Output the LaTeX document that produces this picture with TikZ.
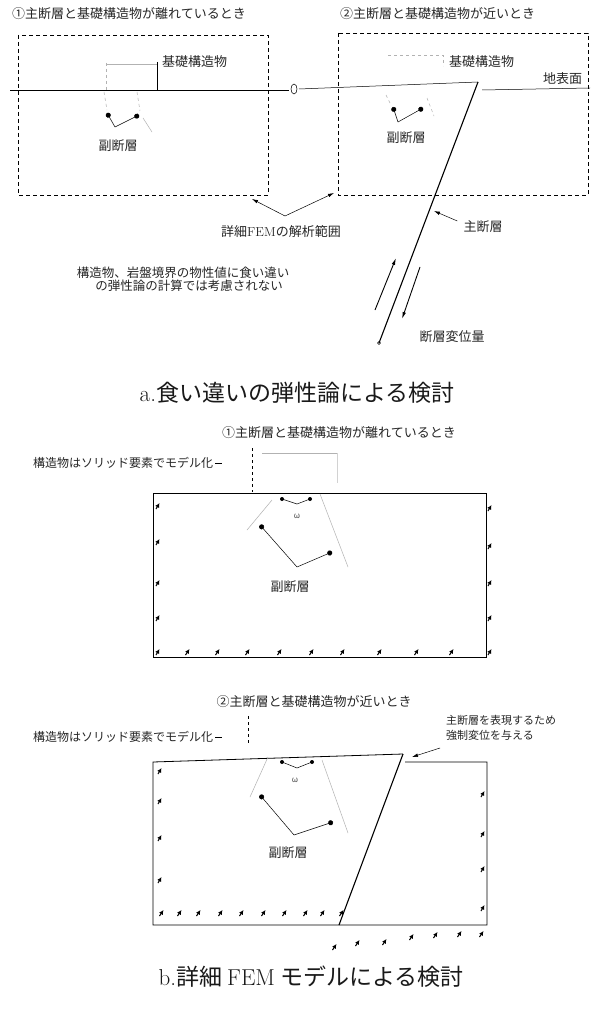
\documentclass[tikz,border=0pt]{standalone}
\usepackage{fontspec}
\newfontfamily\jp{Noto Sans CJK JP}
\usetikzlibrary{arrows.meta}
\begin{document}
\begin{tikzpicture}[x=1pt,y=-1pt,
  lbl/.style={font=\jp\fontsize{13}{15}\selectfont, inner sep=0pt, text=black!85},
  small/.style={font=\jp\fontsize{11}{14}\selectfont, inner sep=0pt, text=black!85},
  caption/.style={font=\jp\fontsize{23}{26}\selectfont, inner sep=0pt, text=black!90},
  rangebox/.style={line width=0.5pt, dash pattern=on 4pt off 3pt},
  model/.style={line width=0.8pt},
  fault/.style={line width=1.1pt},
  lead/.style={line width=0.5pt},
  faint/.style={gray!60, line width=0.5pt},
  dotend/.style={lead, -{Circle[length=5pt]}},
  arr/.style={lead, -{Latex[length=6pt,width=3.5pt]}},
  shear/.style={line width=0.9pt, -{Latex[length=7pt,width=3.5pt]}},
  bcmark/.style={line width=1pt, -{Latex[length=4.5pt,width=4.5pt]}}
]
\useasboundingbox (0,0) rectangle (596,1014);
\fill[white] (0,0) rectangle (596,1014);

% ---------------- a. elastic dislocation analysis ----------------
\node[lbl, anchor=west] (ta1) at (12,14) {①主断層と基礎構造物が離れているとき};
\node[lbl, anchor=west] (ta2) at (340,14) {②主断層と基礎構造物が近いとき};

% analysis ranges of the detailed FEM
\coordinate (r1a) at (18,35);  \coordinate (r1b) at (268,195);
\coordinate (r2a) at (338,33); \coordinate (r2b) at (588,195);
\draw[rangebox] (r1a) rectangle (r1b);
\draw[rangebox] (r2a) rectangle (r2b);

% ground surface
\coordinate (g0) at (10,90);   \coordinate (g1) at (289,90);
\coordinate (g2) at (299,89);  \coordinate (fa1) at (478,82);
\coordinate (g3) at (482,90);  \coordinate (g4) at (590,88);
\draw[lead] (g0) -- (g1);
\draw[lead] (294,89) ellipse (3 and 5);
\draw[lead] (g2) -- (fa1);
\draw[lead] (g3) -- (g4);
\node[lbl, anchor=west] (surf) at (543,79) {地表面};

% foundation (left)
\draw[faint, dashed] (106,63) -- (106,90);
\draw[faint] (106,64) -- (157,64);
\draw[lead] (157,62) -- (157,90);
\node[lbl, anchor=west] (fd1) at (162,62) {基礎構造物};

% sub faults (left)
\draw[faint, dashed] (104,92) -- (107,110);
\draw[faint, dashed] (137,92) -- (140,111);
\draw[faint] (143,118) -- (152,132);
\coordinate (sa1) at (115,127);
\draw[dotend] (sa1) -- (107,113);
\draw[dotend] (sa1) -- (139,115);
\node[lbl] (sf1) at (118,146) {副断層};

% foundation (right)
\draw[faint, dashed] (388,55) -- (443,55) -- (443,66);
\node[lbl, anchor=west] (fd2) at (449,62) {基礎構造物};

% sub faults (right)
\draw[faint, dashed] (386,95) -- (391,105);
\draw[faint, dashed] (427,98) -- (434,116);
\coordinate (sa2) at (398,122);
\draw[dotend] (sa2) -- (393,107);
\draw[dotend] (sa2) -- (423,108);
\node[lbl] (sf2) at (406,138) {副断層};

% main fault
\coordinate (fa2) at (379,343);
\draw[fault] (fa1) -- (fa2);
\draw[lead] (fa2) circle (1.5);
\node[lbl] (mf) at (483,227) {主断層};
\draw[arr] (mf.west) ++(-6,-6) coordinate (mfl) -- (434,211);

% slip direction
\draw[shear] (375,310) -- (396,258);
\draw[shear] (420,267) -- (402,319);
\node[lbl] (slip) at (452,337) {断層変位量};

% FEM analysis range label
\node[lbl] (rng) at (281,232) {詳細{\rmfamily FEM}の解析範囲};
\coordinate (rv) at (285,216);
\draw[arr] (rv) -- (252,199);
\draw[arr] (rv) -- (334,193);

% note
\node[lbl, font=\jp\fontsize{12.5}{14}\selectfont] (nt1) at (183,273) {構造物、岩盤境界の物性値に食い違い};
\node[lbl, font=\jp\fontsize{12.5}{14}\selectfont] (nt2) at (189,286) {の弾性論の計算では考慮されない};

\node[caption] (capa) at (297,393) {{\rmfamily a.}食い違いの弾性論による検討};

% ---------------- b. detailed FEM model ----------------
% case 1
\node[lbl] (tb1) at (339,433) {①主断層と基礎構造物が離れているとき};
\node[lbl, font=\jp\fontsize{12}{14}\selectfont, anchor=west] (st1) at (33,463) {構造物はソリッド要素でモデル化};
\draw[lead] (st1.east) ++(2,0) -- (222,463);
\draw[lead, dashed] (252,448) -- (252,492);
\draw[faint] (262,453) -- (337,453);
\draw[faint, gray!35] (337,453) -- (337,483);

\coordinate (m1a) at (153,493); \coordinate (m1b) at (486,657);
\draw[model] (m1a) rectangle (m1b);

\foreach \y in {505,541,582,617,651} \draw[bcmark] (156,\y+4) -- (159.5,\y-2);
\foreach \y in {507,545,582,617,651} \draw[bcmark] (488,\y+4) -- (491.5,\y-2);
\foreach \x in {188,218,248,280,312,343,380,417,452} \draw[bcmark] (\x-2.5,655) -- (\x+1.5,649);

% sub faults (case 1)
\draw[faint] (272,500) -- (247,530);
\draw[faint] (320,494) -- (348,567);
\draw[lead] (282,499) -- (297,504) -- (310,499);
\fill (282,499) circle (2); \fill (310,499) circle (2);
\node[font=\jp\fontsize{8}{9}\selectfont, inner sep=0pt, text=black!70] (w1) at (297,516) {ω};
\coordinate (sb1) at (297,567);
\draw[dotend] (sb1) -- (260,525);
\draw[dotend] (sb1) -- (332,552);
\node[lbl] (sf3) at (290,587) {副断層};

% case 2
\node[lbl] (tb2) at (314,702) {②主断層と基礎構造物が近いとき};
\node[lbl, font=\jp\fontsize{12}{14}\selectfont, anchor=west] (st2) at (33,737) {構造物はソリッド要素でモデル化};
\draw[lead] (st2.east) ++(2,0) -- (222,737);
\draw[lead, dashed] (248,716) -- (248,745);
\node[small, anchor=west] (fl1) at (446,720) {主断層を表現するため};
\node[small, anchor=west] (fl2) at (446,735) {強制変位を与える};
\coordinate (fb1) at (403,754);
\coordinate (fb2) at (339,925);
\draw[arr] (440,748) -- (412,757);

\draw[model] (403,754) -- (153,762) -- (153,925) -- (487,925) -- (487,762) -- (405,762);
\draw[fault] (fb1) -- (fb2);

\foreach \y in {770,800,837,879} \draw[bcmark] (158,\y+4) -- (161.5,\y-2);
\foreach \y in {793,833,868,907} \draw[bcmark] (481,\y+4) -- (484.5,\y-2);
\foreach \x in {162,180,199,221,242,264,285,306,323,342} \draw[bcmark] (\x-2.5,916) -- (\x+1.5,910);
\foreach \x/\y in {335/947,358/943,385/942,412/937,436/935,460/934,482/934} \draw[bcmark] (\x-2.5,\y+3) -- (\x+1.5,\y-3);

% sub faults (case 2)
\draw[faint] (268,757) -- (250,797);
\draw[faint] (322,760) -- (348,833);
\draw[lead] (282,762) -- (297,768) -- (312,762);
\fill (282,762) circle (2); \fill (312,762) circle (2);
\node[font=\jp\fontsize{8}{9}\selectfont, inner sep=0pt, text=black!70] (w2) at (295,780) {ω};
\coordinate (sb2) at (294,835);
\draw[dotend] (sb2) -- (260,795);
\draw[dotend] (sb2) -- (333,822);
\node[lbl] (sf4) at (288,853) {副断層};

\node[caption] (capb) at (311,977) {{\rmfamily b.}詳細 {\rmfamily FEM} モデルによる検討};
\end{tikzpicture}
\end{document}
